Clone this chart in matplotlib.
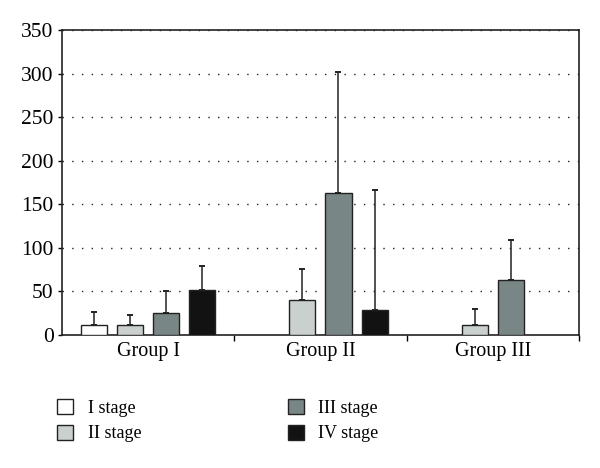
import matplotlib
matplotlib.use("Agg")
import matplotlib.pyplot as plt
import numpy as np

groups = ["Group I", "Group II", "Group III"]
stages = ["I stage", "II stage", "III stage", "IV stage"]
colors = ["#ffffff", "#c9d0ce", "#788685", "#121212"]

# mean values per stage (None = no bar), and upper error length
means = {
    "I stage":   [11, None, None],
    "II stage":  [11, 40.5, 11.5],
    "III stage": [25.5, 163.5, 63],
    "IV stage":  [52, 28.5, None],
}
errors = {
    "I stage":   [15, None, None],
    "II stage":  [12, 35.5, 18],
    "III stage": [25.5, 138.5, 46.5],
    "IV stage":  [27, 137.5, None],
}

plt.rcParams["font.family"] = ["Liberation Serif", "DejaVu Serif"]

fig = plt.figure(figsize=(6, 4.68), dpi=100)
ax = fig.add_axes([0.1033, 0.2842, 0.8617, 0.6517])

centers = np.arange(len(groups)) + 0.5
step = 0.209
width = 0.151
offsets = (np.arange(len(stages)) - 1.5) * step

for i, stage in enumerate(stages):
    xs, ys, es = [], [], []
    for g in range(len(groups)):
        if means[stage][g] is not None:
            xs.append(centers[g] + offsets[i])
            ys.append(means[stage][g])
            es.append(errors[stage][g])
    ax.bar(xs, ys, width=width, color=colors[i], edgecolor="#222222",
           linewidth=1.0, label=stage, zorder=3)
    ax.errorbar(xs, ys, yerr=[np.zeros(len(es)), es], fmt="none",
                ecolor="#222222", elinewidth=1.1, capsize=2.5, capthick=1.4,
                zorder=2)

ax.set_xlim(0, 3)
ax.set_ylim(0, 350)
ax.set_yticks(np.arange(0, 351, 50))
ax.yaxis.grid(True, linestyle=(0, (1, 6)), color="#222222", linewidth=1.0)
ax.set_axisbelow(True)

ax.set_xticks([1, 2, 3])
ax.set_xticklabels([])
ax.set_xticks(centers, minor=True)
ax.set_xticklabels(groups, minor=True)
ax.tick_params(axis="x", which="major", direction="out", length=4, width=1)
ax.tick_params(axis="x", which="minor", length=0, pad=5, labelsize=14.5)
ax.tick_params(axis="y", direction="out", length=3, width=1, labelsize=15.5, pad=3)

for s in ax.spines.values():
    s.set_linewidth(1.2)
    s.set_color("#222222")

fig.legend(loc="lower left", bbox_to_anchor=(0.068, 0.02), ncol=2,
           frameon=False, fontsize=13, handlelength=0.9, handleheight=0.9,
           handletextpad=0.8, columnspacing=8.1, labelspacing=0.45)

fig.savefig("out.png", dpi=100)
